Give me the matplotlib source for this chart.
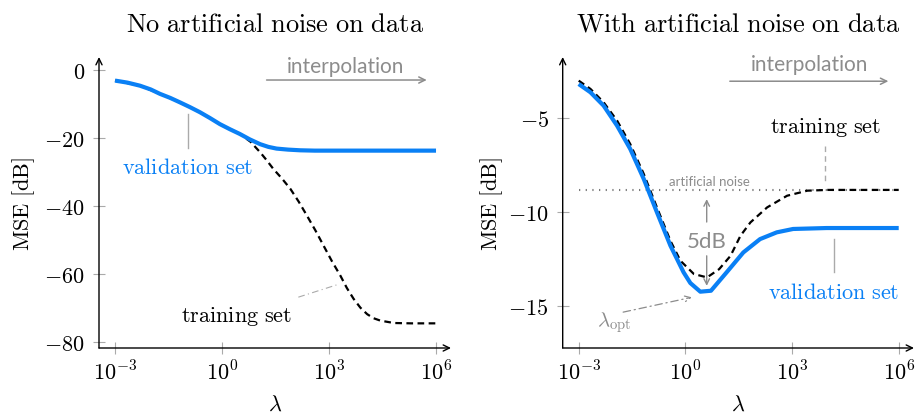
import numpy as np
import matplotlib
matplotlib.use("Agg")
import matplotlib.pyplot as plt

plt.rcParams['mathtext.fontset'] = 'cm'
plt.rcParams['font.family'] = ['Lato', 'DejaVu Sans']

# ---------------- data (x given as log10(lambda)) ----------------
left_val_logx = [-3, -2.65, -2.3, -2.0, -1.74, -1.45, -1.18, -0.9, -0.62, -0.34, -0.06, 0.22, 0.5,
                 0.78, 1.07, 1.3, 1.53, 1.85, 2.19, 2.6, 3, 4, 5, 6]
left_val_db = [-3.2, -3.8, -4.7, -5.8, -7.1, -8.3, -9.6, -11.0, -12.5, -14.2, -16.0, -17.5, -18.9,
               -20.5, -21.9, -22.7, -23.2, -23.5, -23.7, -23.8, -23.8, -23.8, -23.8, -23.8]

left_train_logx = [-3, -2.3, -1.74, -1.18, -0.62, -0.06, 0.5, 0.8, 1.07, 1.25, 1.44, 1.68, 1.92, 2.15,
                   2.38, 2.62, 2.85, 3.08, 3.32, 3.5, 3.69, 3.88, 4.07, 4.25, 4.44, 4.82, 5.3, 6]
left_train_db = [-3.2, -4.7, -7.1, -9.6, -12.5, -16.0, -18.9, -21.2, -24.3, -26.6, -29.2, -32.0, -35.1,
                 -38.8, -42.9, -47.3, -51.8, -56.3, -60.6, -64.2, -67.4, -70.0, -71.9, -73.1, -73.8,
                 -74.5, -74.6, -74.6]

right_val_logx = [-3, -2.67, -2.30, -1.92, -1.55, -1.17, -0.80, -0.42, -0.05, 0.14, 0.42, 0.72, 1.16,
                  1.63, 2.10, 2.57, 3.03, 3.97, 5, 6]
right_val_db = [-3.19, -3.63, -4.34, -5.41, -6.65, -8.25, -10.02, -11.8, -13.22, -13.79, -14.25, -14.2,
                -13.22, -12.16, -11.45, -11.09, -10.91, -10.86, -10.86, -10.86]

right_train_logx = [-3, -2.67, -2.30, -1.92, -1.55, -1.17, -0.80, -0.42, -0.14, 0.24, 0.61, 0.95, 1.27,
                    1.55, 1.83, 2.30, 2.86, 3.43, 4, 5, 6]
right_train_db = [-3.01, -3.45, -4.16, -5.14, -6.39, -7.98, -9.76, -11.54, -12.6, -13.31, -13.49, -13.05,
                  -12.34, -11.27, -10.56, -9.76, -9.14, -8.87, -8.83, -8.83, -8.83]

noise_db = -8.82
noise_logx = [-3, 6]

xtick_exps = [-3, 0, 3, 6]
xtick_labels = [r'$10^{-3}$', r'$10^{0}$', r'$10^{3}$', r'$10^{6}$']
left_yticks = [0, -20, -40, -60, -80]
left_yticklabels = [r'$0$', r'$-20$', r'$-40$', r'$-60$', r'$-80$']
right_yticks = [-5, -10, -15]
right_yticklabels = [r'$-5$', r'$-10$', r'$-15$']

titles = [r'$\mathrm{No\ artificial\ noise\ on\ data}$', r'$\mathrm{With\ artificial\ noise\ on\ data}$']

BLUE = '#0a80f5'
GRAY = '#8c8c8c'
L = lambda v: 10.0 ** np.asarray(v, dtype=float)

W, H = 916, 414
fig = plt.figure(figsize=(W / 100, H / 100), dpi=100)

def px_axes(x0, x1, y0, y1):
    return fig.add_axes([x0 / W, 1 - y1 / H, (x1 - x0) / W, (y1 - y0) / H])

axL = px_axes(99, 451, 58, 349)
axR = px_axes(562.7, 914, 58, 349)


def style(ax, xlim_exp, ylim, yticks, yticklabels, title):
    ax.set_xscale('log')
    ax.set_xlim(10 ** xlim_exp[0], 10 ** xlim_exp[1])
    ax.set_ylim(*ylim)
    for s in ax.spines.values():
        s.set_visible(False)
    ax.set_xticks(L(xtick_exps))
    ax.set_xticklabels(xtick_labels)
    ax.minorticks_off()
    ax.set_yticks(yticks)
    ax.set_yticklabels(yticklabels)
    ax.tick_params(axis='both', direction='inout', length=8, width=0.8, color='#aaaaaa',
                   labelsize=16, labelcolor='black')
    ax.tick_params(axis='x', pad=4)
    ax.tick_params(axis='y', pad=6)
    ax.patch.set_visible(False)
    ax.annotate('', xy=(1, 0), xytext=(0, 0), xycoords='axes fraction', textcoords='axes fraction',
                arrowprops=dict(arrowstyle='->,head_length=0.45,head_width=0.22', lw=1.0, color='black',
                                shrinkA=0, shrinkB=0))
    ax.annotate('', xy=(0, 1), xytext=(0, 0), xycoords='axes fraction', textcoords='axes fraction',
                arrowprops=dict(arrowstyle='->,head_length=0.45,head_width=0.22', lw=1.0, color='black',
                                shrinkA=0, shrinkB=0))
    ax.set_title(title, fontsize=19, pad=19)
    ax.set_ylabel(r'$\mathrm{MSE\ [dB]}$', fontsize=16, va='center')
    ax.set_xlabel(r'$\lambda$', fontsize=16, va='top')
    ax.xaxis.set_label_coords(0.5, -0.158)


style(axL, (-3.449, 6.42), (-81.85, 3.74), left_yticks, left_yticklabels, titles[0])
axL.yaxis.set_label_coords((23.5 - 99) / 352, 0.5)
style(axR, (-3.45, 6.43), (-17.25, -1.75), right_yticks, right_yticklabels, titles[1])
axR.yaxis.set_label_coords((492 - 562.7) / 351.3, 0.5)

dash = (0, (3.0, 2.0))

# ---------------- left panel ----------------
axL.plot(L(left_train_logx), left_train_db, color='black', lw=1.6, ls=dash, zorder=2)
axL.plot(L(left_val_logx), left_val_db, color=BLUE, lw=3.0, zorder=3, solid_capstyle='butt',
         solid_joinstyle='round')

axL.annotate('', xy=(10 ** 5.74, -3.03), xytext=(10 ** 1.25, -3.03),
             arrowprops=dict(arrowstyle='->,head_length=0.45,head_width=0.22', lw=1.1, color=GRAY,
                             shrinkA=0, shrinkB=0))
axL.text(10 ** 3.47, 1.18, 'interpolation', color=GRAY, fontsize=15, ha='center', va='center')
axL.plot([10 ** -0.945] * 2, [-13.0, -23.1], color='#aaaaaa', lw=1.0)
axL.text(10 ** -0.96, -28.7, r'$\mathrm{validation\ set}$', color=BLUE, fontsize=16, ha='center', va='center')
axL.plot([10 ** 2.14, 10 ** 3.21], [-66.9, -63.3], color='#aaaaaa', lw=0.8, ls=(0, (6, 3, 1, 3)))
axL.text(10 ** 0.42, -72.4, r'$\mathrm{training\ set}$', color='black', fontsize=16, ha='center', va='center')

# ---------------- right panel ----------------
axR.plot(L(noise_logx), [noise_db, noise_db], color='#7a7a7a', lw=1.5, ls=(0, (0.6, 2.6)), zorder=1)
axR.plot(L(right_train_logx), right_train_db, color='black', lw=1.6, ls=dash, zorder=2)
axR.plot(L(right_val_logx), right_val_db, color=BLUE, lw=3.0, zorder=3, solid_capstyle='butt',
         solid_joinstyle='round')

axR.annotate('', xy=(10 ** 5.71, -3.04), xytext=(10 ** 1.25, -3.04),
             arrowprops=dict(arrowstyle='->,head_length=0.45,head_width=0.22', lw=1.1, color=GRAY,
                             shrinkA=0, shrinkB=0))
axR.text(10 ** 3.48, -2.12, 'interpolation', color=GRAY, fontsize=15, ha='center', va='center')
axR.text(10 ** 0.68, -8.34, 'artificial noise', color=GRAY, fontsize=9.5, ha='center', va='center')
axR.text(10 ** 0.6, -11.54, '5dB', color=GRAY, fontsize=16, ha='center', va='center')
axR.annotate('', xy=(10 ** 0.6, -9.32), xytext=(10 ** 0.6, -10.54),
             arrowprops=dict(arrowstyle='->,head_length=0.4,head_width=0.2', lw=1.0, color=GRAY,
                             shrinkA=0, shrinkB=0))
axR.annotate('', xy=(10 ** 0.6, -13.94), xytext=(10 ** 0.6, -12.34),
             arrowprops=dict(arrowstyle='->,head_length=0.4,head_width=0.2', lw=1.0, color=GRAY,
                             shrinkA=0, shrinkB=0))
axR.annotate('', xy=(10 ** 0.18, -14.55), xytext=(10 ** -1.75, -15.34),
             arrowprops=dict(arrowstyle='->,head_length=0.4,head_width=0.2', lw=0.9, color=GRAY,
                             ls=(0, (6, 3, 1, 3)), shrinkA=0, shrinkB=0))
axR.text(10 ** -1.99, -15.87, r'$\lambda_{\mathrm{opt}}$', color=GRAY, fontsize=15, ha='center', va='center')
axR.plot([10 ** 3.93] * 2, [-6.48, -8.43], color='#aaaaaa', lw=1.0, ls=(0, (4, 3)))
axR.text(10 ** 3.93, -5.44, r'$\mathrm{training\ set}$', color='black', fontsize=16, ha='center', va='center')
axR.plot([10 ** 4.19] * 2, [-11.45, -13.2], color='#aaaaaa', lw=1.0)
axR.text(10 ** 4.17, -14.25, r'$\mathrm{validation\ set}$', color=BLUE, fontsize=16, ha='center', va='center')

fig.savefig('out.png', dpi=100)
